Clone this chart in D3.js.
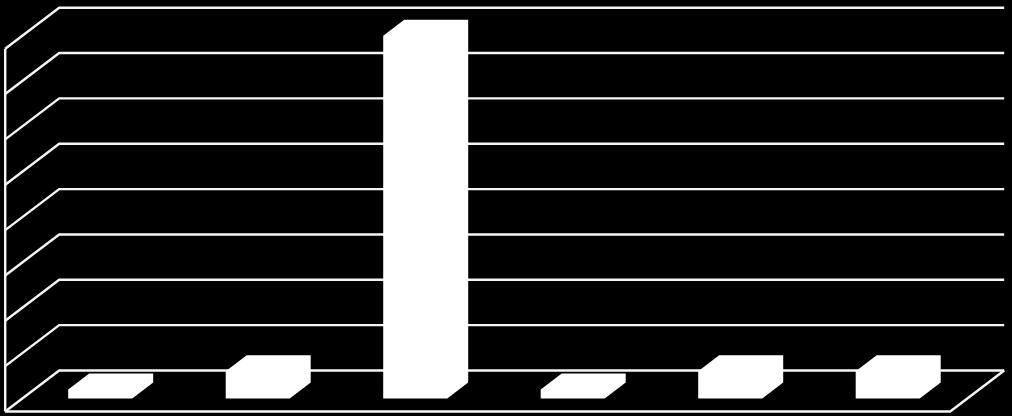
<!DOCTYPE html>
<html>
<head>
<meta charset="utf-8">
<script src="https://cdn.jsdelivr.net/npm/d3@7/dist/d3.min.js"></script>
<style>html,body{margin:0;padding:0;background:#000;overflow:hidden}svg{display:block}</style>
</head>
<body>
<svg id="c" width="1012" height="416"></svg>
<script>
const categories = ["1", "2", "3", "4", "5", "6"];
const values = [0.2, 0.6, 8, 0.2, 0.6, 0.6];
const yTicks = [0, 1, 2, 3, 4, 5, 6, 7, 8];

const W = 1012, H = 416;
const svg = d3.select("#c").attr("viewBox", `0 0 ${W} ${H}`);
svg.append("rect").attr("width", W).attr("height", H).attr("fill", "#000");

// 3D projection
const depth = {dx: 54, dy: -41};      // wall / floor depth
const barDepth = {dx: 21, dy: -16};   // bar depth
const x = d3.scaleBand().domain(categories).range([5.2, 950.2]).paddingInner(0).paddingOuter(0);
const y = d3.scaleLinear().domain([0, 8]).range([411.5, 48.7]);
const barInset = 63, barW = 64, barLift = 13;

const line = d3.line();
const stroke = "#f6f6f6";
const sw = 2.4;

// gridlines: diagonal along the side wall, then straight along the back wall
svg.append("g").selectAll("path").data(yTicks).join("path")
  .attr("d", t => line([
    [x.range()[0], y(t)],
    [x.range()[0] + depth.dx, y(t) + depth.dy],
    [x.range()[1] + depth.dx, y(t) + depth.dy]
  ]))
  .attr("fill", "none").attr("stroke", stroke).attr("stroke-width", sw);

// left wall axis
svg.append("path")
  .attr("d", line([[x.range()[0], y(8)], [x.range()[0], y(0)]]))
  .attr("stroke", stroke).attr("stroke-width", sw).attr("fill", "none");

// floor front edge and right edge
svg.append("path")
  .attr("d", line([
    [x.range()[0], y(0)],
    [x.range()[1], y(0)],
    [x.range()[1] + depth.dx, y(0) + depth.dy]
  ]))
  .attr("stroke", stroke).attr("stroke-width", sw).attr("fill", "none");

// bars
svg.append("g").selectAll("path").data(values).join("path")
  .attr("d", (v, i) => {
    const l = x(categories[i]) + barInset, r = l + barW;
    const b = y(0) - barLift, t = y(v) - barLift;
    const {dx, dy} = barDepth;
    return line([[l, b], [l, t], [l + dx, t + dy], [r + dx, t + dy], [r + dx, b + dy], [r, b]]) + "Z";
  })
  .attr("fill", "#fff");
</script>
</body>
</html>
